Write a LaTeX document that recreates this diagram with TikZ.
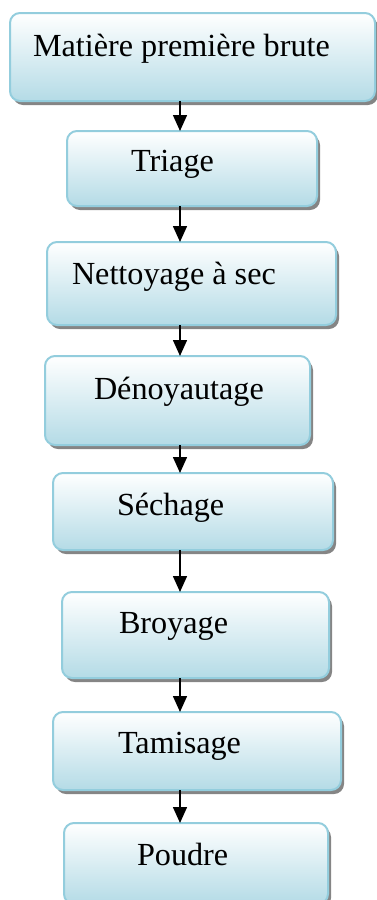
\documentclass[tikz,border=0pt]{standalone}
\usepackage{fontspec}
\setmainfont{Liberation Serif}
\usetikzlibrary{arrows.meta,shadows}
\definecolor{boxline}{HTML}{93CDDD}
\definecolor{boxfill}{HTML}{B4DBE6}
\definecolor{shadowgray}{HTML}{858585}
\tikzset{
  procbox/.style={draw=boxline, line width=2pt, rounded corners=10pt,
    top color=white, bottom color=boxfill, middle color=boxfill!50!white,
    inner sep=0pt, outer sep=0pt,
    drop shadow={shadow xshift=3pt, shadow yshift=-4pt, fill=shadowgray, opacity=1}},
  lbl/.style={inner sep=0pt, outer sep=0pt, anchor=base west, font=\fontsize{32.2}{38}\selectfont},
  flow/.style={line width=1.5pt, -{Triangle[length=16pt,width=14pt]}}
}
\begin{document}
\begin{tikzpicture}[x=1pt,y=-1pt]
\useasboundingbox (0,0) rectangle (376,900);
\coordinate (ax) at (180,0);
\node[procbox, minimum width=365pt, minimum height=88pt] (b1) at (192.5,57) {};
\node[procbox, minimum width=250pt, minimum height=75pt] (b2) at (192,168.5) {};
\node[procbox, minimum width=289pt, minimum height=83pt] (b3) at (191.5,283.5) {};
\node[procbox, minimum width=265pt, minimum height=89pt] (b4) at (177.5,400.5) {};
\node[procbox, minimum width=280pt, minimum height=77pt] (b5) at (193,511.5) {};
\node[procbox, minimum width=267pt, minimum height=86pt] (b6) at (195.5,635) {};
\node[procbox, minimum width=288pt, minimum height=78pt] (b7) at (197,751) {};
\node[procbox, minimum width=264pt, minimum height=81pt] (b8) at (196,863.5) {};
\node[lbl] (t1) at (33,56) {Matière première brute};
\node[lbl] (t2) at (131,171) {Triage};
\node[lbl] (t3) at (72,284) {Nettoyage à sec};
\node[lbl] (t4) at (94,399) {Dénoyautage};
\node[lbl] (t5) at (117,515) {Séchage};
\node[lbl] (t6) at (119,633) {Broyage};
\node[lbl] (t7) at (118,753) {Tamisage};
\node[lbl] (t8) at (137,865) {Poudre};
\draw[flow] (b1.south -| ax) -- (b2.north -| ax);
\draw[flow] (b2.south -| ax) -- (b3.north -| ax);
\draw[flow] (b3.south -| ax) -- (b4.north -| ax);
\draw[flow] (b4.south -| ax) -- (b5.north -| ax);
\draw[flow] (b5.south -| ax) -- (b6.north -| ax);
\draw[flow] (b6.south -| ax) -- (b7.north -| ax);
\draw[flow] (b7.south -| ax) -- (b8.north -| ax);
\end{tikzpicture}
\end{document}
